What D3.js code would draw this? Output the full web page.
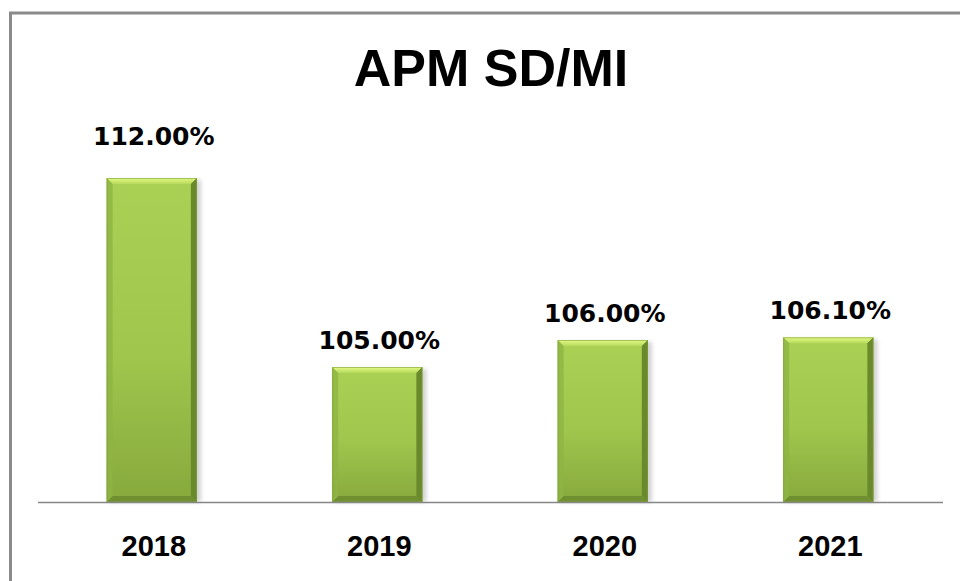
<!DOCTYPE html>
<html>
<head>
<meta charset="utf-8">
<script src="https://cdn.jsdelivr.net/npm/d3@7"></script>
<style>
  body { margin: 0; background: #fff; }
  svg { display: block; }
</style>
</head>
<body>
<svg id="chart" width="960" height="581"></svg>
<script>
const categories = ['2018', '2019', '2020', '2021'];
const values = [112.0, 105.0, 106.0, 106.1];
const valueLabels = ['112.00%', '105.00%', '106.00%', '106.10%'];
const title = 'APM SD/MI';

const svg = d3.select('#chart');

const x = d3.scaleBand()
  .domain(categories)
  .range([39, 941])
  .paddingInner(0.6)
  .paddingOuter(0.3);

const y = d3.scaleLinear()
  .domain([100, 114])
  .range([502, 124]);

const defs = svg.append('defs');

// face gradient
const face = defs.append('linearGradient').attr('id', 'face')
  .attr('x1', 0).attr('y1', 0).attr('x2', 0).attr('y2', 1);
face.append('stop').attr('offset', '0%').attr('stop-color', '#aad154');
face.append('stop').attr('offset', '55%').attr('stop-color', '#a0c64d');
face.append('stop').attr('offset', '100%').attr('stop-color', '#87a93d');

const topBevel = defs.append('linearGradient').attr('id', 'topBevel')
  .attr('x1', 0).attr('y1', 0).attr('x2', 0).attr('y2', 1);
topBevel.append('stop').attr('offset', '0%').attr('stop-color', '#e4fa86');
topBevel.append('stop').attr('offset', '100%').attr('stop-color', '#b6da5b');

const shadow = defs.append('filter').attr('id', 'shadow')
  .attr('x', '-20%').attr('y', '-5%').attr('width', '140%').attr('height', '110%');
shadow.append('feGaussianBlur').attr('stdDeviation', 2);

// frame
svg.append('rect')
  .attr('x', 10.5).attr('y', 13)
  .attr('width', 1000).attr('height', 1000)
  .attr('fill', 'none')
  .attr('stroke', '#8a8a8a')
  .attr('stroke-width', 3);

svg.append('text')
  .attr('x', 491).attr('y', 86)
  .attr('text-anchor', 'middle')
  .attr('font-family', '"Liberation Sans", Arial, sans-serif')
  .attr('font-weight', 'bold')
  .attr('font-size', 52)
  .text(title);

const bars = svg.selectAll('g.bar')
  .data(categories)
  .enter()
  .append('g')
  .attr('class', 'bar');

const b = 6; // bevel

bars.append('rect')
  .attr('x', d => x(d) + 2)
  .attr('y', (d, i) => y(values[i]) + 2)
  .attr('width', x.bandwidth() + 2)
  .attr('height', (d, i) => y.range()[0] - y(values[i]) - 2)
  .attr('fill', '#000')
  .attr('opacity', 0.18)
  .attr('filter', 'url(#shadow)');

bars.append('rect')
  .attr('x', d => x(d))
  .attr('y', (d, i) => y(values[i]))
  .attr('width', x.bandwidth())
  .attr('height', (d, i) => y.range()[0] - y(values[i]))
  .attr('fill', 'url(#face)');

// bevel edges
bars.append('path')
  .attr('fill', 'url(#topBevel)')
  .attr('d', (d, i) => {
    const x0 = x(d), x1 = x(d) + x.bandwidth(), t = y(values[i]);
    return `M${x0},${t}L${x1},${t}L${x1 - b},${t + b}L${x0 + b},${t + b}Z`;
  });

bars.append('path')
  .attr('fill', '#6f8f30')
  .attr('d', (d, i) => {
    const x0 = x(d), x1 = x(d) + x.bandwidth(), bt = y.range()[0];
    return `M${x0},${bt}L${x1},${bt}L${x1 - b},${bt - b}L${x0 + b},${bt - b}Z`;
  });

bars.append('path')
  .attr('fill', '#8fb443')
  .attr('opacity', 0.8)
  .attr('d', (d, i) => {
    const x0 = x(d), t = y(values[i]), bt = y.range()[0];
    return `M${x0},${t}L${x0 + b},${t + b}L${x0 + b},${bt - b}L${x0},${bt}Z`;
  });

bars.append('path')
  .attr('fill', '#6a892c')
  .attr('d', (d, i) => {
    const x1 = x(d) + x.bandwidth(), t = y(values[i]), bt = y.range()[0];
    return `M${x1},${t}L${x1 - b},${t + b}L${x1 - b},${bt - b}L${x1},${bt}Z`;
  });

bars.append('rect')
  .attr('x', d => x(d) + 0.5)
  .attr('y', (d, i) => y(values[i]) + 0.5)
  .attr('width', x.bandwidth() - 1)
  .attr('height', (d, i) => y.range()[0] - y(values[i]) - 1)
  .attr('fill', 'none')
  .attr('stroke', '#7d9e36')
  .attr('stroke-opacity', 0.6);

// value labels (the tallest one sits a bit higher, like the original)
const maxV = d3.max(values);
bars.append('text')
  .attr('x', d => x(d) + x.bandwidth() / 2 + 2)
  .attr('y', (d, i) => y(values[i]) - (values[i] === maxV ? 33 : 18))
  .attr('text-anchor', 'middle')
  .attr('font-family', '"DejaVu Sans", Verdana, sans-serif')
  .attr('font-weight', 'bold')
  .attr('font-size', 25)
  .text((d, i) => valueLabels[i]);

// baseline
svg.append('line')
  .attr('x1', 38).attr('x2', 943)
  .attr('y1', y.range()[0] + 0.5).attr('y2', y.range()[0] + 0.5)
  .attr('stroke', '#868686')
  .attr('stroke-width', 1.5);

// category axis labels
const xAxis = d3.axisBottom(x).tickSize(0).tickPadding(0);
const gx = svg.append('g')
  .attr('transform', `translate(0,${y.range()[0]})`)
  .call(xAxis);
gx.select('.domain').remove();
gx.selectAll('text')
  .attr('dy', null)
  .attr('y', 54)
  .attr('x', 2)
  .attr('fill', '#000')
  .attr('font-family', '"Liberation Sans", Arial, sans-serif')
  .attr('font-weight', 'bold')
  .attr('font-size', 29);
</script>
</body>
</html>
